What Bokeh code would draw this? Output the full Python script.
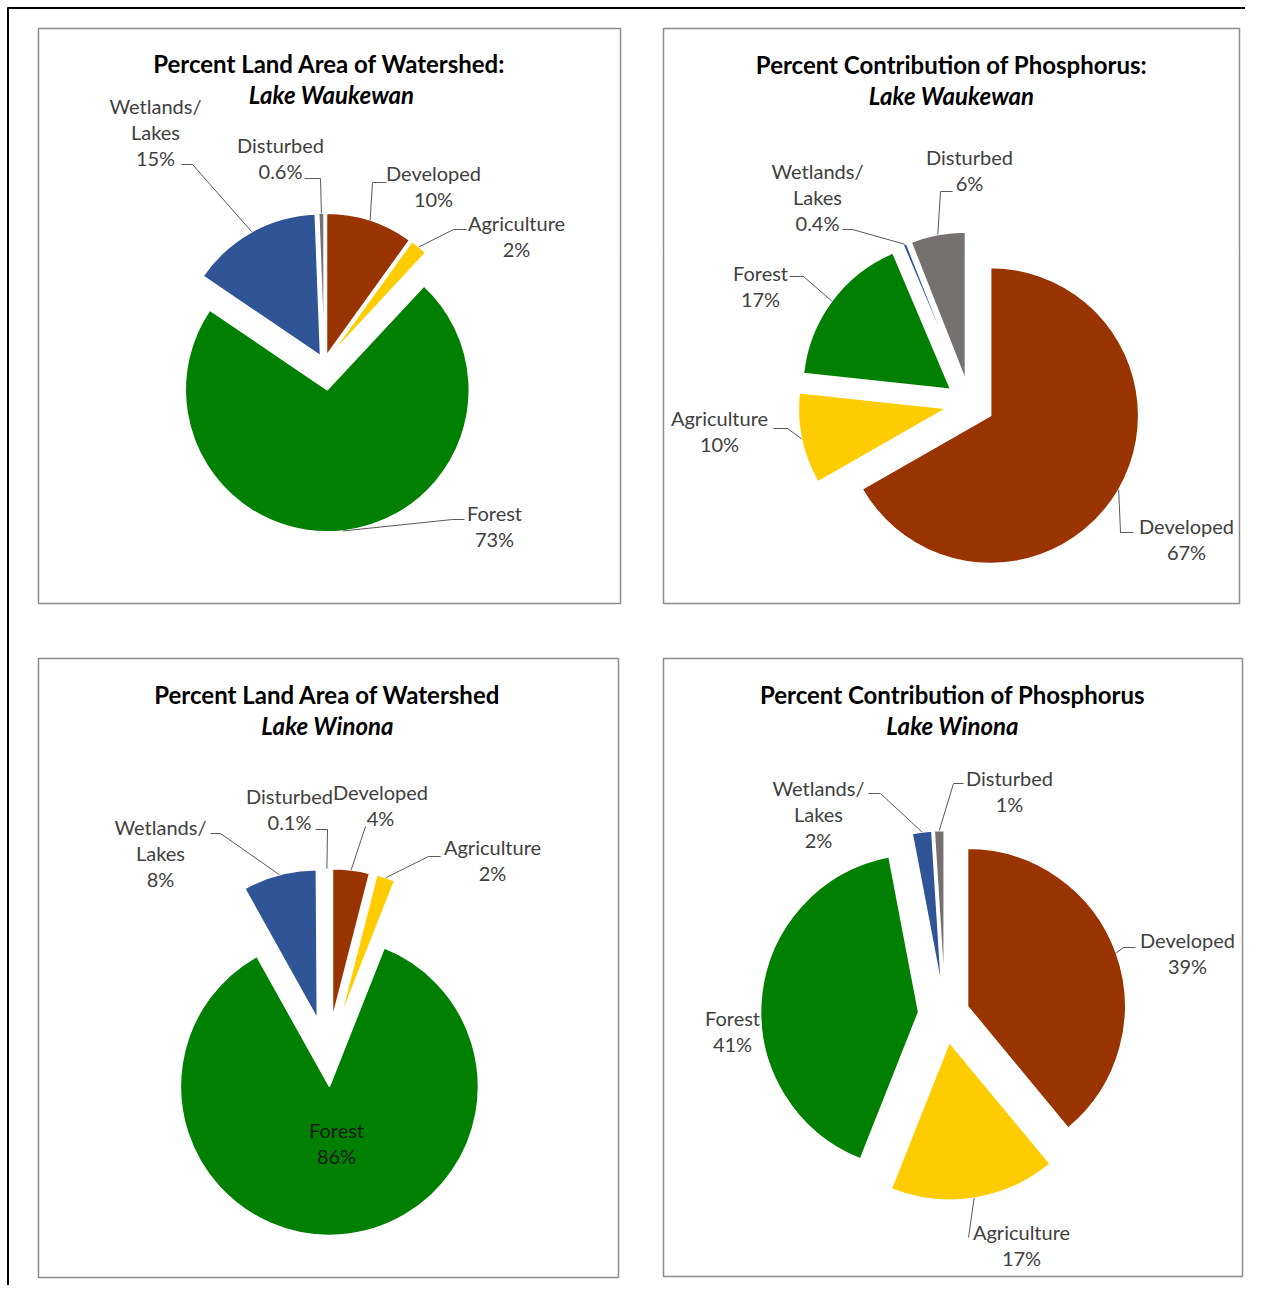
import numpy as np
from bokeh.plotting import figure
from bokeh.models import Range1d, ColumnDataSource
from bokeh.core.properties import value
from bokeh.embed import file_html
from bokeh.resources import INLINE

# ---------------- data ----------------
categories = ["Developed", "Agriculture", "Forest", "Wetlands/Lakes", "Disturbed"]
category_lines = [["Developed"], ["Agriculture"], ["Forest"], ["Wetlands/", "Lakes"], ["Disturbed"]]
colors = ["#993300", "#FFCC00", "#008000", "#2F5597", "#767171"]

waukewan_land = [10, 2, 73, 15, 0.6]
waukewan_phos = [67, 10, 17, 0.4, 6]
winona_land = [4, 2, 86, 8, 0.1]
winona_phos = [39, 17, 41, 2, 1]

titles = [
    ("Percent Land Area of Watershed:", "Lake Waukewan"),
    ("Percent Contribution of Phosphorus:", "Lake Waukewan"),
    ("Percent Land Area of Watershed", "Lake Winona"),
    ("Percent Contribution of Phosphorus", "Lake Winona"),
]

# ---------------- layout (picture pixel coordinates, y downwards) ----------------
H = 1301
def Y(ry):
    return H - ry

FONT = value("Lato")
LABEL_SIZE = "20px"
TITLE_SIZE = "24px"
LINE_STEP = 26
LABEL_DY = -2
TITLE_DY = -1.5
LABEL_COLOR = "#404040"
LEADER_COLOR = "#595959"

charts = [
    dict(values=waukewan_land, panel=(38, 28, 620, 603),
         title_pos=[(329, 64), (331, 95)],
         origin=(323.7, 362), radius=142, explode=[7.5, 7.5, 27.5, 7.5, 7.5],
         labels=[(433, 174), (516, 224), (494, 514), (155, 107), (280, 146)],
         leaders=[((372, 182), (386, 182)), ((453, 229), (466, 229)), ((452, 519), (464, 519)),
                  ((192, 164), (181, 164)), ((320, 178), (304, 178))],
         inside=[False] * 5),
    dict(values=waukewan_phos, panel=(663, 28, 1239, 603),
         title_pos=[(951, 65), (951, 96)],
         origin=(969.4, 403), radius=148, explode=[24, 24, 24, 24, 24],
         labels=[(1186, 527), (719, 419), (760, 274), (817, 172), (969, 158)],
         leaders=[((1120, 532), (1133, 532)), ((787, 428), (773, 428)), ((803, 276), (789, 276)),
                  ((852, 229), (842, 229)), ((940, 191), (952, 191))],
         inside=[False] * 5),
    dict(values=winona_land, panel=(38, 658, 618, 1277),
         title_pos=[(327, 695), (327, 726)],
         origin=(327, 1057), radius=149, explode=[40, 40, 29, 40, 40],
         labels=[(380, 793), (492, 848), (336, 1131), (160, 828), (289, 797)],
         leaders=[((365, 826), (365, 826)), ((428, 856), (440, 856)), None,
                  ((220, 833), (210, 833)), ((327, 829), (315, 829))],
         inside=[False, False, True, False, False]),
    dict(values=winona_phos, panel=(663, 658, 1242, 1276),
         title_pos=[(952, 695), (952, 726)],
         origin=(944.5, 1014), radius=158, explode=[24, 28, 26.5, 26, 26],
         labels=[(1187, 941), (1021, 1233), (732, 1019), (818, 789), (1009, 779)],
         leaders=[((1123, 947), (1135, 947)), ((968, 1237), (968, 1237)), None,
                  ((880, 793), (868, 793)), ((953, 783), (963, 783))],
         inside=[False] * 5),
]

p = figure(width=1245, height=1285, x_range=Range1d(0, 1245), y_range=Range1d(16, 1301),
           output_backend="svg", toolbar_location=None,
           x_axis_location=None, y_axis_location=None,
           min_border=0, min_border_left=0, min_border_right=0,
           min_border_top=0, min_border_bottom=0,
           outline_line_color=None, background_fill_color="white",
           border_fill_color="white")
p.grid.grid_line_color = None

# outer frame (top and left black rule)
p.line(x=[7, 1245], y=[Y(7.5), Y(7.5)], line_color="black", line_width=2)
p.line(x=[7.5, 7.5], y=[Y(7), Y(1301)], line_color="black", line_width=2)

lab_x, lab_y, lab_t, lab_c = [], [], [], []
lead_xs, lead_ys = [], []

for ci, ch in enumerate(charts):
    vals = np.array(ch["values"], dtype=float)
    frac = vals / vals.sum()
    cum_end = np.cumsum(frac) * 360.0
    cum_start = cum_end - frac * 360.0
    mid = (cum_start + cum_end) / 2.0
    ox, oy = ch["origin"]
    r = ch["radius"]
    ex = np.array(ch["explode"], dtype=float)
    ax = ox + ex * np.sin(np.radians(mid))
    ay = Y(oy) + ex * np.cos(np.radians(mid))
    src = ColumnDataSource(dict(
        x=ax, y=ay,
        start=np.radians(90.0 - cum_end), end=np.radians(90.0 - cum_start),
        color=colors))
    p.wedge(x="x", y="y", radius=r, start_angle="start", end_angle="end",
            fill_color="color", line_color="white", line_width=1.5, source=src)

    # panel border
    x0, y0, x1, y1 = ch["panel"]
    p.quad(left=x0, right=x1, top=Y(y0), bottom=Y(y1), fill_color=None,
           line_color="#8c8c8c", line_width=1.5)

    # titles
    (t1, t2) = titles[ci]
    (tx1, ty1), (tx2, ty2) = ch["title_pos"]
    p.text(x=[tx1], y=[Y(ty1 + TITLE_DY)], text=[t1], text_font=FONT, text_font_size=TITLE_SIZE,
           text_font_style="bold", text_align="center", text_baseline="middle",
           text_color="#000000")
    p.text(x=[tx2], y=[Y(ty2 + TITLE_DY)], text=[t2], text_font=FONT, text_font_size=TITLE_SIZE,
           text_font_style="bold italic", text_align="center", text_baseline="middle",
           text_color="#000000")

    # data labels + leader lines
    for i, v in enumerate(vals):
        lines = category_lines[i] + [f"{ch['values'][i]:g}%"]
        lx, ly = ch["labels"][i]
        for k, t in enumerate(lines):
            lab_x.append(lx)
            lab_y.append(Y(ly + LABEL_DY + k * LINE_STEP))
            lab_t.append(t)
            lab_c.append("#1a1a1a" if ch["inside"][i] else LABEL_COLOR)
        ld = ch["leaders"][i]
        if ld is not None:
            px = ax[i] + r * np.sin(np.radians(mid[i]))
            py = ay[i] + r * np.cos(np.radians(mid[i]))
            (exx, eyy), (enx, eny) = ld
            lead_xs.append([px, exx, enx])
            lead_ys.append([py, Y(eyy), Y(eny)])

p.multi_line(xs=lead_xs, ys=lead_ys, line_color=LEADER_COLOR, line_width=1)
p.text(x="x", y="y", text="t", text_color="c",
       source=ColumnDataSource(dict(x=lab_x, y=lab_y, t=lab_t, c=lab_c)),
       text_font=FONT, text_font_size=LABEL_SIZE, text_align="center",
       text_baseline="middle")

open("out.html", "w").write(file_html(p, INLINE))
